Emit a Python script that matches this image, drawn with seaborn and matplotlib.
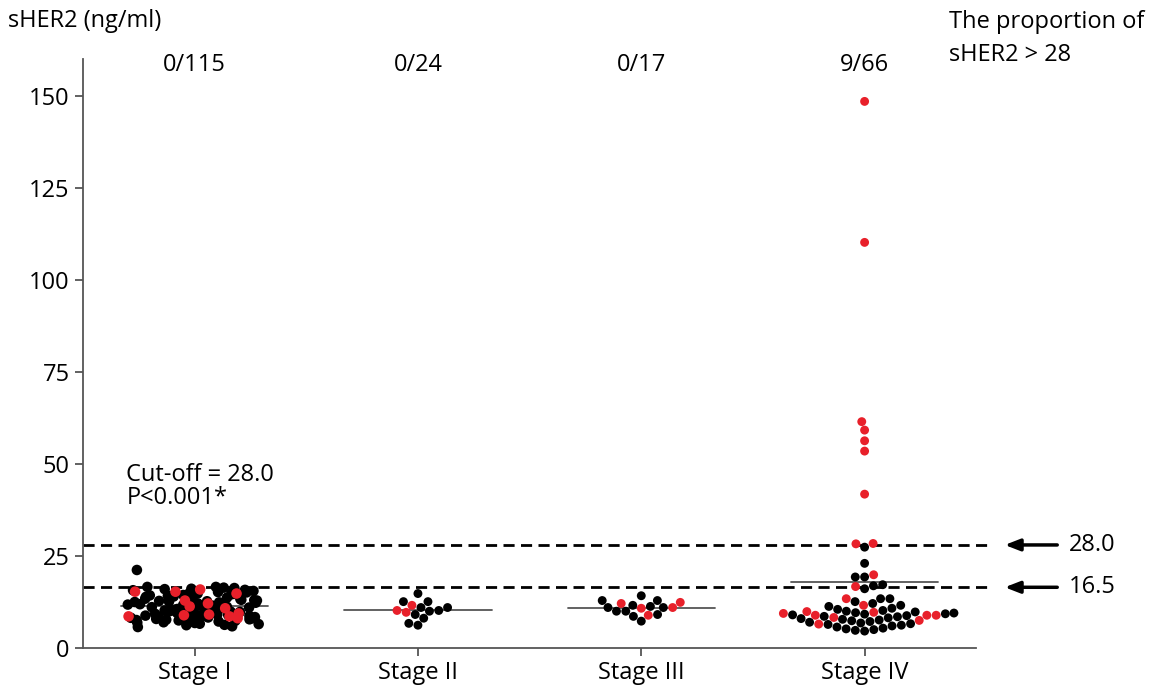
import seaborn as sns
import matplotlib.pyplot as plt
import pandas as pd
import numpy as np

stages = ['Stage I', 'Stage II', 'Stage III', 'Stage IV']
counts = ['0/115', '0/24', '0/17', '9/66']

# sHER2 (ng/ml), black and red dots per stage
stage1_black = [5.7, 5.9, 6.2, 6.3, 6.5, 6.6, 6.8, 6.9, 7.0, 7.1, 7.2, 7.4, 7.5, 7.6,
                7.7, 7.8, 7.9, 8.0, 8.1, 8.2, 8.3, 8.4, 8.5, 8.6, 8.7, 8.8, 8.9, 9.0,
                9.1, 9.2, 9.3, 9.4, 9.5, 9.6, 9.7, 9.8, 9.9, 10.0, 10.1, 10.2, 10.3,
                10.4, 10.5, 10.6, 10.7, 10.8, 10.9, 11.0, 11.1, 11.2, 11.3, 11.4,
                11.5, 11.6, 11.7, 11.8, 11.9, 12.0, 12.1, 12.2, 12.3, 12.4, 12.5,
                12.6, 12.7, 12.8, 12.9, 13.0, 13.1, 13.2, 13.3, 13.4, 13.5, 13.6,
                13.7, 13.8, 13.9, 14.0, 14.1, 14.2, 14.3, 14.4, 14.5, 14.6, 14.7,
                14.8, 14.9, 15.0, 15.1, 15.2, 15.4, 15.5, 15.7, 15.8, 16.0, 16.1,
                16.3, 16.4, 16.6, 16.6, 21.2]
stage1_red = [15.3, 14.8, 12.9, 12.1, 10.8, 8.1, 8.6, 8.6, 8.9, 11.3, 15.3, 15.9, 9.1, 9.4]

stage2_black = [14.8, 12.6, 12.6, 11.0, 10.2, 10.0, 11.0, 8.1, 9.1, 6.2, 6.7]
stage2_red = [11.6, 10.2, 9.7]

stage3_black = [14.2, 12.9, 12.9, 11.6, 10.0, 11.3, 11.0, 10.0, 11.0, 8.6, 9.1, 7.3]
stage3_red = [12.4, 12.1, 10.8, 11.0, 8.9]

stage4_black = [27.4, 23.0, 19.3, 19.3, 17.2, 16.9, 16.1, 13.4, 13.4, 12.6, 12.1, 11.6,
                11.3, 10.8, 10.5, 10.2, 10.0, 9.8, 9.6, 9.5, 9.3, 9.2, 9.0, 8.8, 8.6,
                8.5, 8.2, 8.0, 7.8, 7.6, 7.4, 7.2, 7.0, 6.8, 6.6, 6.4, 6.2, 6.0, 5.7,
                5.4, 5.2, 5.0, 4.8, 4.6]
stage4_red = [148.5, 110.2, 61.5, 59.2, 56.3, 53.5, 41.8, 28.4, 28.3, 19.9, 16.7, 13.4,
              11.6, 9.4, 8.9, 8.9, 8.9, 9.7, 9.9, 8.3, 6.5, 7.5]

cutoffs = [28.0, 16.5]

rows = []
for st, blk, red in zip(stages,
                        [stage1_black, stage2_black, stage3_black, stage4_black],
                        [stage1_red, stage2_red, stage3_red, stage4_red]):
    rows += [(st, v, 'black') for v in blk]
    rows += [(st, v, 'red') for v in red]
df = pd.DataFrame(rows, columns=['stage', 'sHER2', 'group'])

sns.set_style('ticks')
plt.rcParams['font.family'] = ['Open Sans', 'DejaVu Sans']
plt.rcParams['text.color'] = 'black'
FS = 17

fig = plt.figure(figsize=(11.65, 6.95), dpi=100)
ax = fig.add_axes([0.0712, 0.0676, 0.838 - 0.0712, 0.915 - 0.0676])

pal = {'black': 'black', 'red': '#e8202a'}
# Stage I is too dense for a swarm: overlapping dots in a jittered strip
np.random.seed(7)
sns.stripplot(data=df[df.stage == 'Stage I'], x='stage', y='sHER2', hue='group',
              order=stages, palette=pal, size=7.6, jitter=0.3, linewidth=0,
              legend=False, ax=ax, zorder=3)
sns.swarmplot(data=df[df.stage != 'Stage I'], x='stage', y='sHER2', hue='group',
              order=stages, palette=pal, size=6.4, linewidth=0,
              legend=False, ax=ax, zorder=3)

# mean lines
means = df.groupby('stage')['sHER2'].mean().reindex(stages)
for i, m in enumerate(means):
    ax.plot([i - 0.33, i + 0.33], [m, m], color='#555555', lw=1.3, zorder=1)

# cut-off dashed lines + arrows
for c in cutoffs:
    ax.plot([-0.5, 3.575], [c, c], ls=(0, (4, 2.3)), color='black', lw=2.0,
            clip_on=False, zorder=0)
    ax.annotate('', xy=(3.615, c), xytext=(3.875, c),
                arrowprops=dict(arrowstyle='-|>,head_length=0.9,head_width=0.35',
                                color='black', lw=2.5),
                annotation_clip=False)
    ax.text(3.915, c, f'{c:.1f}', fontsize=FS, va='center', ha='left')

ax.set_xlim(-0.5, 3.5)
ax.set_ylim(0, 160)
ax.set_yticks([0, 25, 50, 75, 100, 125, 150])
ax.set_xlabel('')
ax.set_ylabel('')
ax.tick_params(labelsize=FS, length=6, width=1.3, color='#555555',
               labelcolor='black')
for s in ['left', 'bottom']:
    ax.spines[s].set_color('#555555')
    ax.spines[s].set_linewidth(1.3)
sns.despine(ax=ax)

for i, t in enumerate(counts):
    ax.text(i, 158.5, t, fontsize=FS, ha='center', va='center')

ax.text(-0.305, 47, 'Cut-off = 28.0', fontsize=FS, ha='left', va='center')
ax.text(-0.305, 40.8, 'P<0.001*', fontsize=FS, ha='left', va='center')

fig.text(0.007, 0.97, 'sHER2 (ng/ml)', fontsize=FS, ha='left', va='center')
fig.text(0.815, 0.968, 'The proportion of', fontsize=FS, ha='left', va='center')
fig.text(0.815, 0.921, 'sHER2 > 28', fontsize=FS, ha='left', va='center')

fig.savefig('out.png', dpi=100)
